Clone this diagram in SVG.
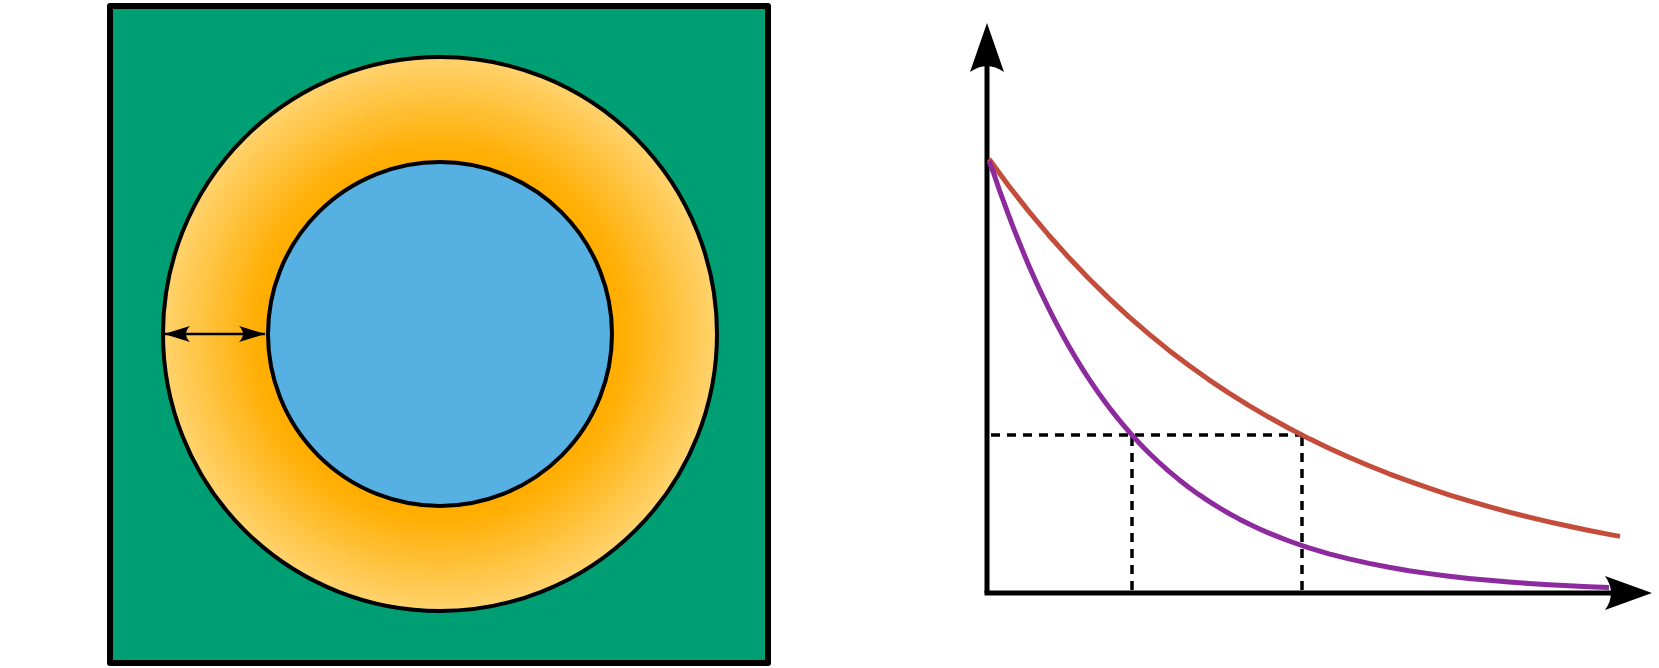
<svg xmlns="http://www.w3.org/2000/svg" width="1659" height="668" viewBox="0 0 1659 668">
<style>
.frame{fill:#009E73;stroke:#000;stroke-width:6;stroke-linejoin:round}
.outline{stroke:#000;stroke-width:4}
.axis{fill:none;stroke:#000;stroke-width:5;stroke-linecap:butt}
.dash{fill:none;stroke:#000;stroke-width:3.5;stroke-dasharray:9 7}
.curve{fill:none;stroke-width:5;stroke-linejoin:round}
.head{fill:#000;stroke:none}
</style>
<defs>
<radialGradient id="ring" cx="440" cy="334" r="277" gradientUnits="userSpaceOnUse">
<stop offset="0.6" stop-color="#FFAC00"/>
<stop offset="0.66" stop-color="#FFAE02"/>
<stop offset="1" stop-color="#FFD36E"/>
</radialGradient>
<marker id="dh" viewBox="0 0 26 16" refX="26" refY="8" markerWidth="26" markerHeight="16" markerUnits="userSpaceOnUse" orient="auto-start-reverse">
<path d="M26,8 L0,0 Q8,8 0,16 Z" fill="#000"/>
</marker>
</defs>
<g id="frame"><rect class="frame" x="110" y="6" width="658" height="657"/></g>
<g id="outer-ring"><circle class="outline" cx="440" cy="334" r="277" fill="url(#ring)"/></g>
<g id="inner-core"><circle class="outline" cx="440" cy="334" r="172" fill="#56B0E1"/></g>
<g id="thickness-arrow"><line x1="164" y1="334" x2="265" y2="334" stroke="#000" stroke-width="2.5" marker-start="url(#dh)" marker-end="url(#dh)"/></g>
<g id="chart">
<g id="axes">
<path class="axis" d="M987,593 L987,62"/>
<path class="axis" d="M984.5,593 L1612,593"/>
<path class="head" d="M987,23 L1004,72 Q987,60 970,72 Z"/>
<path class="head" d="M1652,593 L1605,610 Q1617,593 1605,576 Z"/>
</g>
<g id="guides">
<path class="dash" d="M991,435 L1302,435"/>
<path class="dash" d="M1132,437 L1132,593"/>
<path class="dash" d="M1302,437 L1302,593"/>
</g>
<g id="curve-slow"><polyline class="curve" stroke="#C44C3A" points="989,159 1009,186.2 1029,211.6 1049,235.5 1069,257.8 1089,278.8 1109,298.4 1129,316.9 1149,334.1 1169,350.4 1189,365.5 1209,379.8 1229,393.1 1249,405.6 1269,417.3 1289,428.3 1309,438.6 1329,448.3 1349,457.3 1369,465.8 1389,473.8 1409,481.2 1429,488.2 1449,494.8 1469,500.9 1489,506.7 1509,512.1 1529,517.1 1549,521.9 1569,526.3 1589,530.5 1609,534.4 1620,536.4"/></g>
<g id="curve-fast"><polyline class="curve" stroke="#8C2A9E" points="989,161 994,174.1 999,189 1004,202.7 1009,216.2 1014,229.3 1019,241.8 1024,254.1 1029,265.9 1034,277.2 1039,288.2 1044,298.8 1049,309 1054,318.9 1059,328.4 1064,337.6 1069,346.5 1074,355 1079,363.3 1084,371.3 1089,379 1094,386.4 1099,393.6 1104,400.5 1109,407.2 1114,413.6 1119,419.9 1124,425.9 1129,431.7 1134,437.3 1139,442.7 1144,447.9 1149,453 1159,462.5 1169,471.4 1179,479.7 1189,487.5 1199,494.7 1209,501.3 1219,507.6 1229,513.5 1239,518.9 1249,524 1259,528.7 1269,533.1 1279,537.1 1289,541 1299,544.5 1309,547.8 1329,553.8 1349,558.9 1369,563.4 1389,567.3 1409,570.7 1429,573.6 1449,576.2 1469,578.4 1489,580.3 1509,582 1529,583.5 1549,584.7 1569,585.8 1589,586.8 1609,587.6"/></g>
</g>
</svg>
